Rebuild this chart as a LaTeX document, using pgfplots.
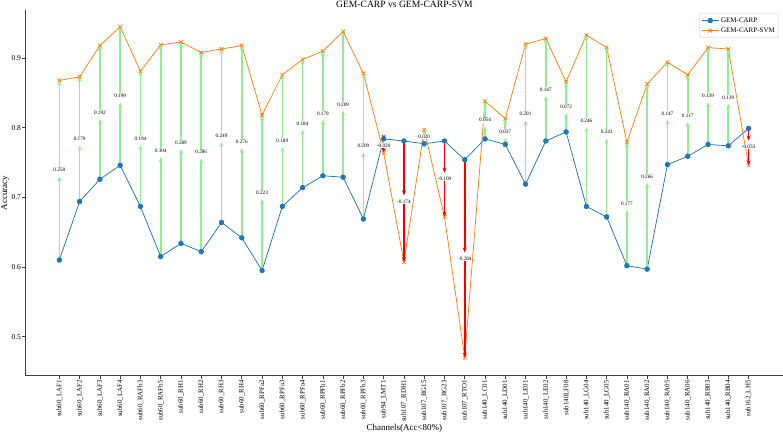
\documentclass[border=0pt]{standalone}
\usepackage{fontspec}
\setmainfont{Liberation Serif}
\usepackage{pgfplots}
\usepackage{pgfplotstable}
\pgfplotsset{compat=1.18}
\usetikzlibrary{arrows.meta}
\definecolor{tabblue}{HTML}{1F77B4}
\definecolor{taborange}{HTML}{FF7F0E}
\definecolor{lgreen}{HTML}{90EE90}
\definecolor{ared}{HTML}{F00000}

\pgfplotstableread{
idx carp svm lab
0 0.610 0.868 0.258
1 0.694 0.873 0.179
2 0.726 0.918 0.192
3 0.746 0.945 0.199
4 0.687 0.881 0.194
5 0.615 0.919 0.304
6 0.634 0.923 0.289
7 0.622 0.908 0.286
8 0.664 0.913 0.249
9 0.642 0.918 0.276
10 0.595 0.818 0.223
11 0.687 0.876 0.189
12 0.714 0.898 0.184
13 0.731 0.910 0.179
14 0.729 0.938 0.209
15 0.669 0.878 0.209
16 0.784 0.764 -0.020
17 0.781 0.607 -0.174
18 0.777 0.797 0.020
19 0.781 0.672 -0.109
20 0.754 0.470 -0.284
21 0.784 0.838 0.054
22 0.776 0.813 0.037
23 0.719 0.920 0.201
24 0.781 0.928 0.147
25 0.794 0.866 0.072
26 0.687 0.933 0.246
27 0.672 0.915 0.243
28 0.602 0.779 0.177
29 0.597 0.863 0.266
30 0.747 0.894 0.147
31 0.759 0.876 0.117
32 0.776 0.915 0.139
33 0.774 0.913 0.139
34 0.799 0.746 -0.053
}\data

\begin{document}
\begin{tikzpicture}
\begin{axis}[
  scale only axis, width=757.3pt, height=365.7pt,
  xmin=-1.66, xmax=35.7, ymin=0.444, ymax=0.969,
  axis x line*=bottom, axis y line*=left,
  axis line style={black!75, line width=0.7pt},
  tick align=outside, major tick length=3.5pt,
  tick style={black!75, line width=0.6pt},
  xtick={0,...,34},
  xticklabels={sub60\_LAF1, sub60\_LAF2, sub60\_LAF3, sub60\_LAF4, sub60\_RAFb3, sub60\_RAFb5, sub60\_RH1, sub60\_RH2, sub60\_RH3, sub60\_RH4, sub60\_RPFa2, sub60\_RPFa3, sub60\_RPFa4, sub60\_RPFb1, sub60\_RPFb2, sub60\_RPFb3, sub94\_LMT1, sub107\_RDH1, sub107\_RG15, sub107\_RG23, sub107\_RTO1, sub140\_LC01, sub140\_LD01, sub140\_LE01, sub140\_LE02, sub140LF08, sub140\_LG04, sub140\_LG05, sub140\_RA01, sub140\_RA02, sub140\_RA05, sub140\_RA06, sub140\_RB03, sub140\_RB04, sub162\_LH5},
  xticklabel style={rotate=90, anchor=east, font=\fontsize{6.9}{7}\selectfont, inner sep=1pt},
  ytick={0.5,0.6,0.7,0.8,0.9},
  scaled y ticks=false,
  yticklabel style={font=\fontsize{7.5}{8}\selectfont, inner sep=1pt,
    /pgf/number format/.cd, fixed, fixed zerofill, precision=1, assume math mode=true},
  title={GEM-CARP vs GEM-CARP-SVM},
  every axis title shift=0pt,
  title style={at={(axis description cs:0.5,1)}, anchor=base, yshift=2.8pt, inner sep=0pt, font=\fontsize{9.6}{10}\selectfont},
  xlabel={Channels(Acc<80\%)},
  xlabel style={at={(axis description cs:0.5,-0.143)}, anchor=center, font=\fontsize{9}{10}\selectfont},
  ylabel={Accuracy},
  ylabel style={at={(axis description cs:-0.0273,0.5)}, anchor=center, font=\fontsize{9}{10}\selectfont},
  legend cell align=left,
  legend style={at={(axis description cs:0.9947,0.991)}, anchor=north east,
    font=\fontsize{7}{8}\selectfont, draw=black!20, rounded corners=2pt, inner sep=2pt},
]
\addplot[tabblue, line width=0.75pt, mark=*, mark size=2.3pt, mark options={solid, fill=tabblue}]
  table[x=idx, y=carp] {\data};
\addlegendentry{GEM-CARP}
\addplot[taborange, line width=0.75pt, mark=x, mark size=2.6pt, mark options={solid}]
  table[x=idx, y=svm] {\data};
\addlegendentry{GEM-CARP-SVM}

% green arrows, first half
\addplot[forget plot, draw=lgreen, fill=lgreen, line width=1.6pt, -{Stealth[length=5pt,width=4pt]},
  quiver={u=0, v={(\thisrow{svm}-\thisrow{carp})/2-0.009},
    every arrow/.append style={draw=lgreen, fill=lgreen}},
  x filter/.expression={\thisrow{svm}>\thisrow{carp} ? x : nan}]
  table[x=idx, y=carp] {\data};
% green arrows, second half
\addplot[forget plot, draw=lgreen, fill=lgreen, line width=1.6pt, -{Stealth[length=5pt,width=4pt]},
  quiver={u=0, v={(\thisrow{svm}-\thisrow{carp})/2},
    every arrow/.append style={draw=lgreen, fill=lgreen}},
  x filter/.expression={\thisrow{svm}>\thisrow{carp} ? x : nan}]
  table[x=idx, y expr={(\thisrow{carp}+\thisrow{svm})/2}] {\data};
% red arrows, first half
\addplot[forget plot, draw=ared, fill=ared, line width=1.5pt, -{Stealth[length=5pt,width=4pt]},
  quiver={u=0, v={(\thisrow{svm}-\thisrow{carp})/2+0.009},
    every arrow/.append style={draw=ared, fill=ared}},
  x filter/.expression={\thisrow{svm}<\thisrow{carp} ? x : nan}]
  table[x=idx, y=carp] {\data};
% red arrows, second half
\addplot[forget plot, draw=ared, fill=ared, line width=1.5pt, -{Stealth[length=5pt,width=4pt]},
  quiver={u=0, v={(\thisrow{svm}-\thisrow{carp})/2},
    every arrow/.append style={draw=ared, fill=ared}},
  x filter/.expression={\thisrow{svm}<\thisrow{carp} ? x : nan}]
  table[x=idx, y expr={(\thisrow{carp}+\thisrow{svm})/2}] {\data};

% labels
\addplot[forget plot, draw=none, mark=none, nodes near coords, point meta=explicit symbolic,
  nodes near coords align=center,
  nodes near coords style={font=\fontsize{5.2}{6}\selectfont, fill=white, inner sep=0.8pt, anchor=center, text=black}]
  table[x=idx, y expr={(\thisrow{carp}+\thisrow{svm})/2}, meta=lab] {\data};
\end{axis}
\pgfresetboundingbox
\path[use as bounding box] ([xshift=-25.7pt,yshift=-57.3pt]current axis.south west) rectangle ([yshift=10pt]current axis.north east);
\end{tikzpicture}
\end{document}
